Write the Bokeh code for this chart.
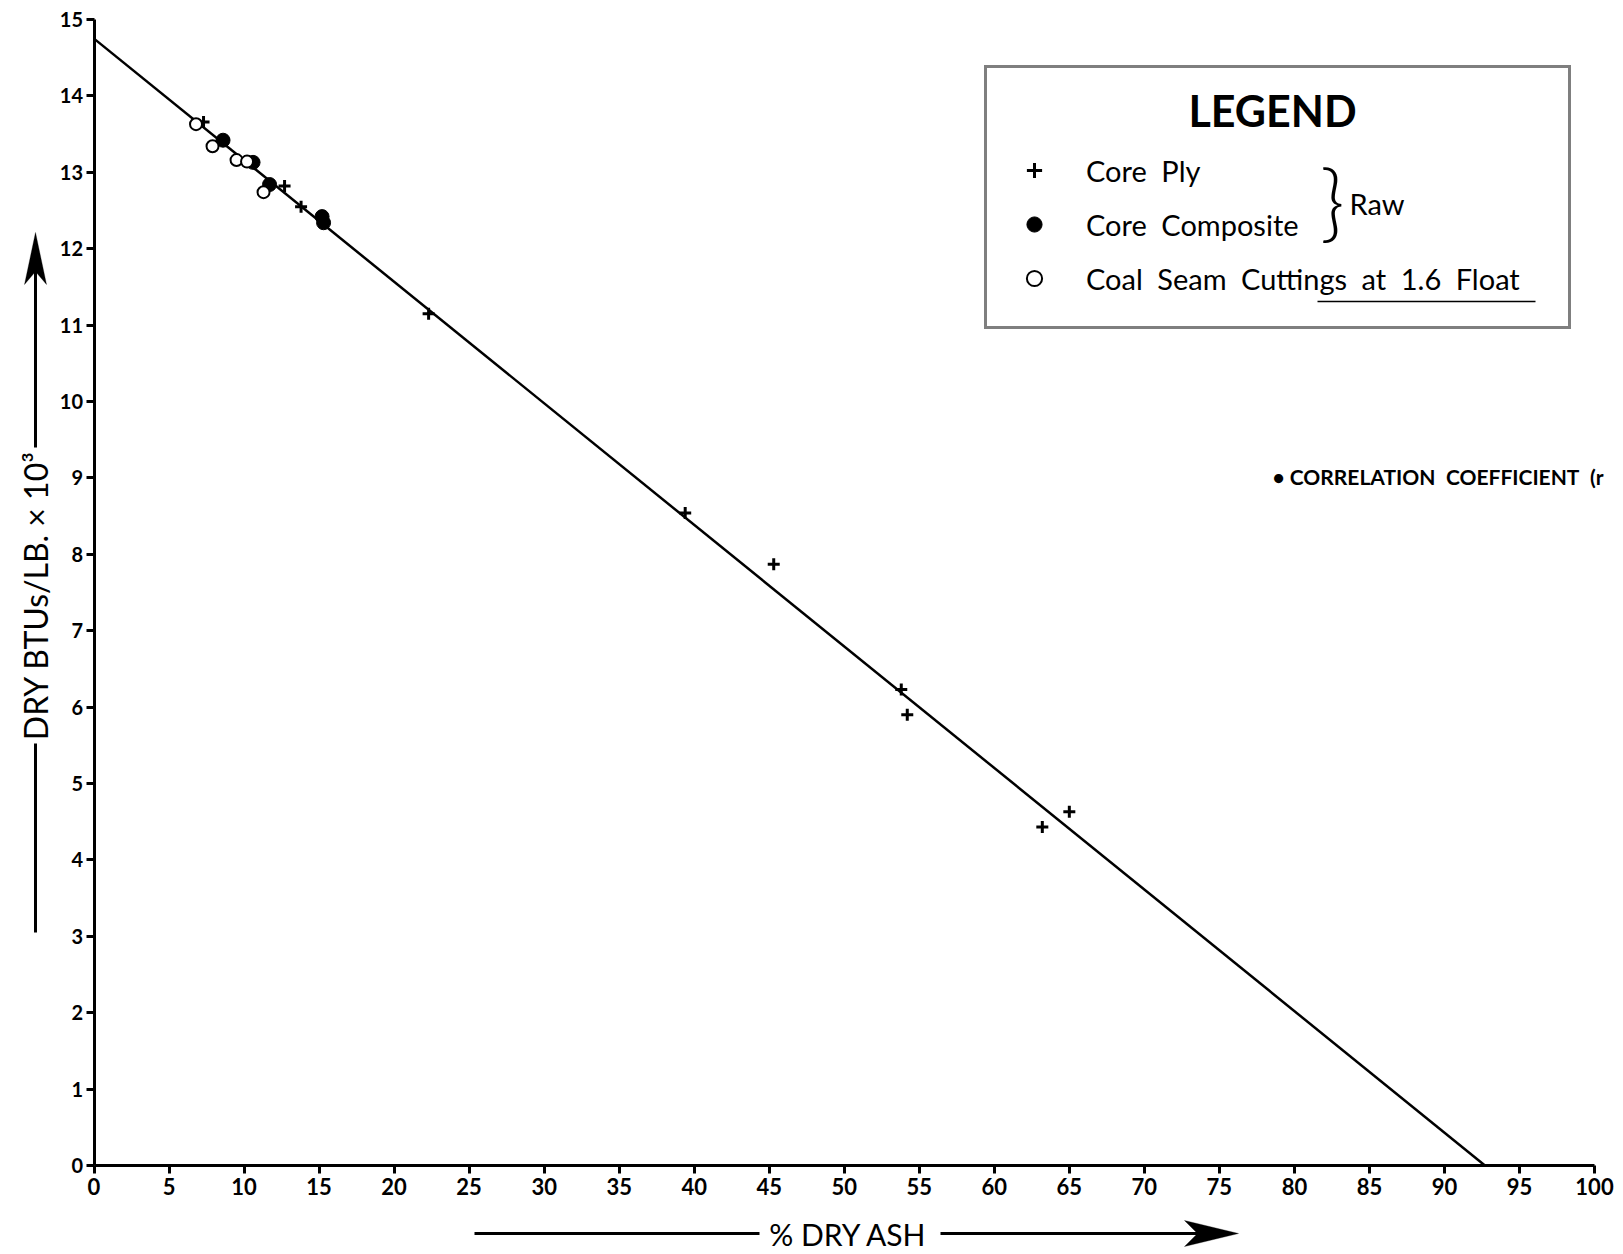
from bokeh.plotting import figure
from bokeh.models import (Range1d, FixedTicker, Arrow, Label, Legend, LegendItem,
                          PolyAnnotation)
from bokeh.embed import file_html
from bokeh.resources import INLINE

# ---------------- data ----------------
ply_ash = [7.3, 12.7, 13.8, 22.3, 39.4, 45.3, 53.8, 54.2, 63.2, 65.0]
ply_btu = [13.66, 12.82, 12.55, 11.15, 8.54, 7.87, 6.23, 5.90, 4.43, 4.63]

comp_ash = [8.6, 10.6, 11.7, 15.2, 15.3]
comp_btu = [13.42, 13.13, 12.84, 12.42, 12.34]

cut_ash = [6.8, 7.9, 9.5, 10.2, 11.3]
cut_btu = [13.63, 13.34, 13.16, 13.14, 12.74]

fit_ash = [0.0, 92.7]
fit_btu = [14.75, 0.0]

x_ticks = list(range(0, 101, 5))
y_ticks = list(range(0, 16))

# ---------------- layout (pixels on the page) ----------------
W, H = 1621, 1252
X0_PX, X100_PX = 93.5, 1594.0     # where ash 0 and 100 fall
Y15_PX, Y0_PX = 19.0, 1165.0      # where BTU 15 and 0 fall
xs = (X100_PX - X0_PX) / 100.0
ys = (Y0_PX - Y15_PX) / 15.0
x_lo = -X0_PX / xs
x_hi = 100.0 + (W - X100_PX) / xs
y_hi = 15.0 + Y15_PX / ys
y_lo = -(H - Y0_PX) / ys


def sy(page_y):
    """page y (from top) -> screen y for annotations (from bottom)"""
    return H - page_y


FONT = "Lato"

p = figure(width=W, height=H,
           x_range=Range1d(x_lo, x_hi), y_range=Range1d(y_lo, y_hi),
           output_backend="svg", toolbar_location=None,
           min_border=0, min_border_left=0, min_border_right=0,
           min_border_top=0, min_border_bottom=0)
p.outline_line_color = None
p.xgrid.visible = False
p.ygrid.visible = False
p.background_fill_color = "white"
p.border_fill_color = "white"

p.line(fit_ash, fit_btu, line_color="black", line_width=2.5)
r_ply = p.scatter(ply_ash, ply_btu, marker="cross", size=12,
                  line_color="black", line_width=3)
r_comp = p.scatter(comp_ash, comp_btu, marker="circle", size=14,
                   fill_color="black", line_color="black")
r_cut = p.scatter(cut_ash, cut_btu, marker="circle", size=12,
                  fill_color="white", line_color="black", line_width=2)

p.xaxis.fixed_location = 0
p.yaxis.fixed_location = 0
p.xaxis.bounds = (0, 100)
p.yaxis.bounds = (0, 15)
for ax in (p.xaxis[0], p.yaxis[0]):
    ax.axis_line_width = 3
    ax.axis_line_color = "black"
    ax.major_tick_line_width = 3
    ax.major_tick_line_color = "black"
    ax.major_tick_in = 0
    ax.major_tick_out = 8
    ax.minor_tick_line_color = None
    ax.major_label_text_font = FONT
    ax.major_label_text_font_style = "bold"
    ax.major_label_text_color = "black"
p.xaxis.ticker = FixedTicker(ticks=x_ticks)
p.yaxis.ticker = FixedTicker(ticks=y_ticks)
p.xaxis.major_label_text_font_size = "22px"
p.yaxis.major_label_text_font_size = "20px"
p.xaxis.major_label_standoff = 4
p.yaxis.major_label_standoff = 3

SP = "\u2002"
legend = Legend(
    items=[LegendItem(label=f"Core{SP}Ply", renderers=[r_ply]),
           LegendItem(label=f"Core{SP}Composite", renderers=[r_comp]),
           LegendItem(label=f"Coal{SP}Seam{SP}Cuttings{SP}at{SP}1.6{SP}Float",
                      renderers=[r_cut])],
    location=(984, sy(329)),
    title="\u00a0", title_text_font=FONT, title_text_font_size="40px",
    title_standoff=6,
    label_text_font=FONT, label_text_font_size="29px",
    label_text_color="black",
    border_line_color="black", border_line_width=3,
    background_fill_alpha=0.0,
    padding=28, spacing=14, glyph_width=38, glyph_height=40,
    label_height=40, label_standoff=33, label_width=454, margin=0,
)
p.add_layout(legend)

# legend heading, brace and "Raw"
p.add_layout(Label(x=1272, y=sy(110), x_units="screen", y_units="screen",
                   text="LEGEND", text_font=FONT, text_font_size="43px",
                   text_font_style="bold", text_baseline="alphabetic",
                   text_align="center", text_color="black", level="overlay"))
p.add_layout(Label(x=1332, y=sy(199), x_units="screen", y_units="screen",
                   text="}", text_font="Lato Light", text_font_size="84px",
                   text_baseline="middle", text_align="center", text_color="black",
                   level="overlay"))
p.add_layout(Label(x=1349, y=sy(203), x_units="screen", y_units="screen",
                   text="Raw", text_font=FONT, text_font_size="29px",
                   text_baseline="middle", text_align="left", text_color="black",
                   level="overlay"))
p.add_layout(Arrow(start=None, end=None, x_start=1317, y_start=sy(301),
                   x_end=1535, y_end=sy(301), start_units="screen", end_units="screen",
                   line_color="black", line_width=1.5))

# correlation note
p.add_layout(Label(x=1272, y=sy(476), x_units="screen", y_units="screen",
                   text=f"• CORRELATION{SP}COEFFICIENT{SP}(r", text_font=FONT,
                   text_font_size="21px", text_font_style="bold",
                   text_baseline="middle", text_align="left", text_color="black"))

# x axis title with arrow
XL_Y = 1233
p.add_layout(Label(x=848, y=sy(XL_Y), x_units="screen", y_units="screen",
                   text="% DRY ASH", text_font=FONT, text_font_size="30px",
                   text_baseline="middle", text_align="center", text_color="black"))
p.add_layout(Arrow(start=None, end=None, x_start=474, y_start=sy(XL_Y),
                   x_end=759, y_end=sy(XL_Y), start_units="screen", end_units="screen",
                   line_color="black", line_width=3))
p.add_layout(Arrow(start=None, end=None, x_start=940, y_start=sy(XL_Y),
                   x_end=1200, y_end=sy(XL_Y), start_units="screen", end_units="screen",
                   line_color="black", line_width=3))
p.add_layout(PolyAnnotation(
    xs=[1238, 1184, 1197, 1184], ys=[sy(XL_Y), sy(XL_Y - 13), sy(XL_Y), sy(XL_Y + 13)],
    xs_units="screen", ys_units="screen",
    fill_color="black", fill_alpha=1.0, line_color="black", line_width=1))

# y axis title with arrow
p.add_layout(Label(x=35, y=sy(595), x_units="screen", y_units="screen",
                   text="DRY BTUs/LB. × 10³", text_font=FONT,
                   text_font_size="32px", angle=90, angle_units="deg",
                   text_baseline="middle", text_align="center", text_color="black"))
p.add_layout(Arrow(start=None, end=None, x_start=35, y_start=sy(932),
                   x_end=35, y_end=sy(743), start_units="screen", end_units="screen",
                   line_color="black", line_width=3))
p.add_layout(Arrow(start=None, end=None, x_start=35, y_start=sy(447),
                   x_end=35, y_end=sy(270), start_units="screen", end_units="screen",
                   line_color="black", line_width=3))
p.add_layout(PolyAnnotation(
    xs=[35, 24, 35, 46], ys=[sy(232), sy(284), sy(271), sy(284)],
    xs_units="screen", ys_units="screen",
    fill_color="black", fill_alpha=1.0, line_color="black", line_width=1))

open("out.html", "w").write(file_html(p, INLINE))
